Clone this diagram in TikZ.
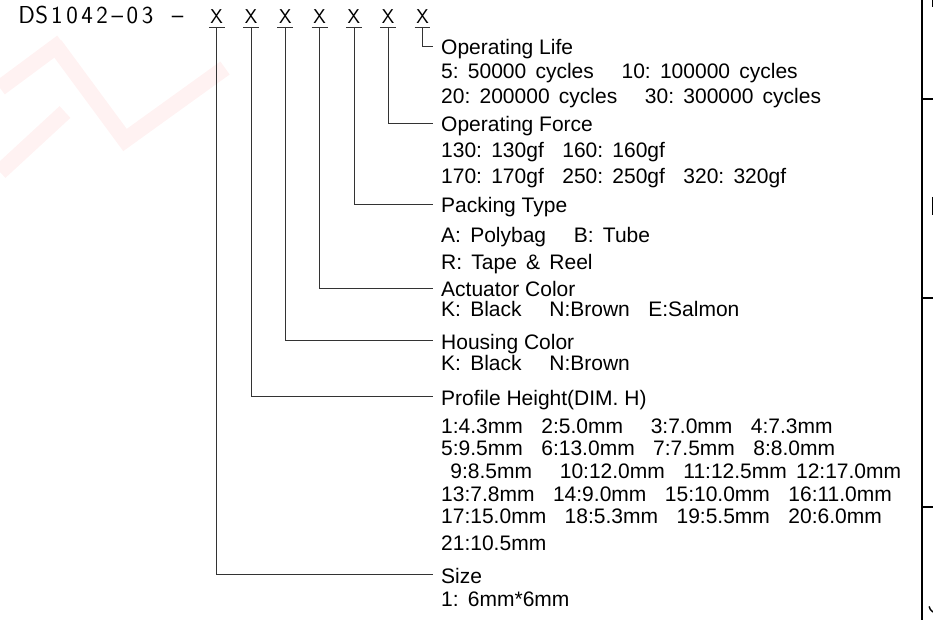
\documentclass[tikz,border=0pt]{standalone}
\usepackage{fontspec}
\setmainfont{Liberation Sans}
\usetikzlibrary{positioning}
\newcommand\cbox[1]{\makebox[15.1pt]{#1}}

\begin{document}
\begin{tikzpicture}[x=1pt,y=-1pt,
  hd/.style={anchor=base west,inner xsep=8pt,inner ysep=0pt,text height=17pt,text depth=0pt,font=\fontsize{21}{24}\selectfont},
  ln/.style={anchor=base west,inner sep=0pt,font=\fontsize{21}{24}\selectfont,
    execute at begin node={\frenchspacing\spaceskip=0.44em\relax}},
  digit/.style={anchor=south,font=\sffamily\fontsize{20}{22}\selectfont,inner xsep=1.5pt,inner ysep=3pt,text height=14pt,text depth=0pt},
  lead/.style={draw=black!80,line width=0.8pt},
  wm/.style={draw=red!5,line width=16pt}]
\useasboundingbox (0,0) rectangle (933,620);
% faint watermark
\draw[wm] (0,88)--(62,42);
\draw[wm] (0,172)--(65,112);
\draw[wm] (55,45)--(125,140)--(225,68);
% right frame
\draw[line width=1.6pt] (922,0)--(922,620);
\foreach \y in {99,298,507} \draw[line width=1.2pt] (922,\y)--(933,\y);
\draw[line width=1.4pt] (932.3,0)--(932.3,7);
\draw[line width=1.4pt] (932.3,197)--(932.3,215);
\draw[line width=1.4pt] (933,612) arc (120:170:8);
% part number
\node[anchor=base west,inner sep=0pt,font=\sffamily\fontsize{24.5}{26}\selectfont] (pn) at (19,24)
  {\cbox{D}\cbox{S}\cbox{1}\cbox{0}\cbox{4}\cbox{2}\cbox{\textendash}\cbox{0}\cbox{3}\cbox{}\cbox{\textendash}};
\foreach \i in {1,...,7} \node[digit] (x\i) at ({216.7+34.3*(\i-1)},27) {X};
\foreach \i in {1,...,7} \draw[lead] (x\i.south west)--(x\i.south east);
% option headings
\node[hd] (life) at (433,55) {Operating Life};
\node[hd] (force) at (433,131.7) {Operating Force};
\node[hd] (pack) at (433,213) {Packing Type};
\node[hd] (act) at (433,296.7) {Actuator Color};
\node[hd] (house) at (433,349.3) {Housing Color};
\node[hd] (prof) at (433,405) {Profile Height(DIM. H)};
\node[hd] (size) at (433,583.3) {Size};
% option values
\foreach \y/\t [count=\i] in {
  79/{5: 50000 cycles~~~10: 100000 cycles},
  104/{20: 200000 cycles~~~30: 300000 cycles},
  158/{130: 130gf~~160: 160gf},
  184/{170: 170gf~~250: 250gf~~320: 320gf},
  242.7/{A: Polybag~~~B: Tube},
  269/{R: Tape \& Reel},
  316.7/{K: Black~~~N:Brown~~E:Salmon},
  370/{K: Black~~~N:Brown},
  433.3/{1:4.3mm~~2:5.0mm~~~3:7.0mm~~4:7.3mm},
  455/{5:9.5mm~~6:13.0mm~~7:7.5mm~~8:8.0mm},
  478.3/{~9:8.5mm~~~10:12.0mm~~11:12.5mm~12:17.0mm},
  501.7/{13:7.8mm~~14:9.0mm~~15:10.0mm~~16:11.0mm},
  523.3/{17:15.0mm~~18:5.3mm~~19:5.5mm~~20:6.0mm},
  550/{21:10.5mm},
  606.7/{1: 6mm*6mm}}
  \node[ln] (v\i) at (441,\y) {\t};
\foreach \a/\b in {x1/size,x2/prof,x3/house,x4/act,x5/pack,x6/force,x7/life} \draw[lead] (\a.south) |- (\b.west);
\end{tikzpicture}
\end{document}
